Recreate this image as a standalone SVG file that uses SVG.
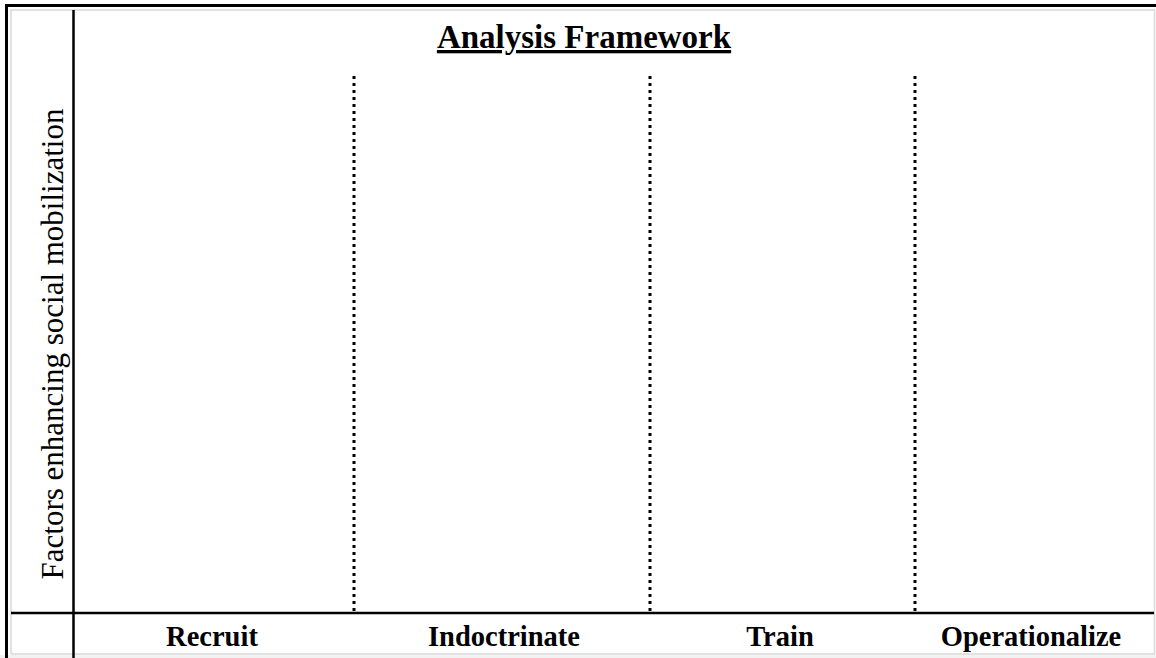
<svg xmlns="http://www.w3.org/2000/svg" width="1156" height="658" viewBox="0 0 1156 658">
<style>
.frame{fill:none;stroke:#000;stroke-width:3}
.inner{fill:none;stroke:#d9d9d9;stroke-width:1.5}
.rule{stroke:#000;stroke-width:2.5}
.dot{stroke:#000;stroke-width:3;stroke-dasharray:3 4}
.hdr{font-family:"Liberation Serif",serif;font-weight:bold;font-size:28.5px;text-anchor:middle}
.title{font-family:"Liberation Serif",serif;font-weight:bold;font-size:33px;text-anchor:middle;text-decoration:underline}
.side{font-family:"Liberation Serif",serif;font-size:31px;text-anchor:middle}
</style>
<rect x="0" y="0" width="1156" height="658" fill="#fff"/>
<rect x="0" y="655" width="1156" height="3" fill="#f2f2f2"/>
<g id="frame">
<path class="frame" d="M6.5 658 V5.5 H1156"/>
<path class="inner" d="M11 654 V10 H1154.5 V654 H11"/>
</g>
<g id="connectors">
<line class="rule" x1="73.5" y1="10" x2="73.5" y2="658"/>
<line class="rule" x1="11" y1="613" x2="1154" y2="613"/>
<line class="dot" x1="354" y1="76" x2="354" y2="611"/>
<line class="dot" x1="650" y1="76" x2="650" y2="611"/>
<line class="dot" x1="915" y1="76" x2="915" y2="611"/>
</g>
<g id="title"><text class="title" x="584" y="48">Analysis Framework</text></g>
<g id="side"><text class="side" transform="translate(63,344) rotate(-90)">Factors enhancing social mobilization</text></g>
<g id="recruit"><text class="hdr" x="212" y="646">Recruit</text></g>
<g id="indoctrinate"><text class="hdr" x="504" y="646">Indoctrinate</text></g>
<g id="train"><text class="hdr" x="780" y="646">Train</text></g>
<g id="operationalize"><text class="hdr" x="1031" y="646">Operationalize</text></g>
</svg>
